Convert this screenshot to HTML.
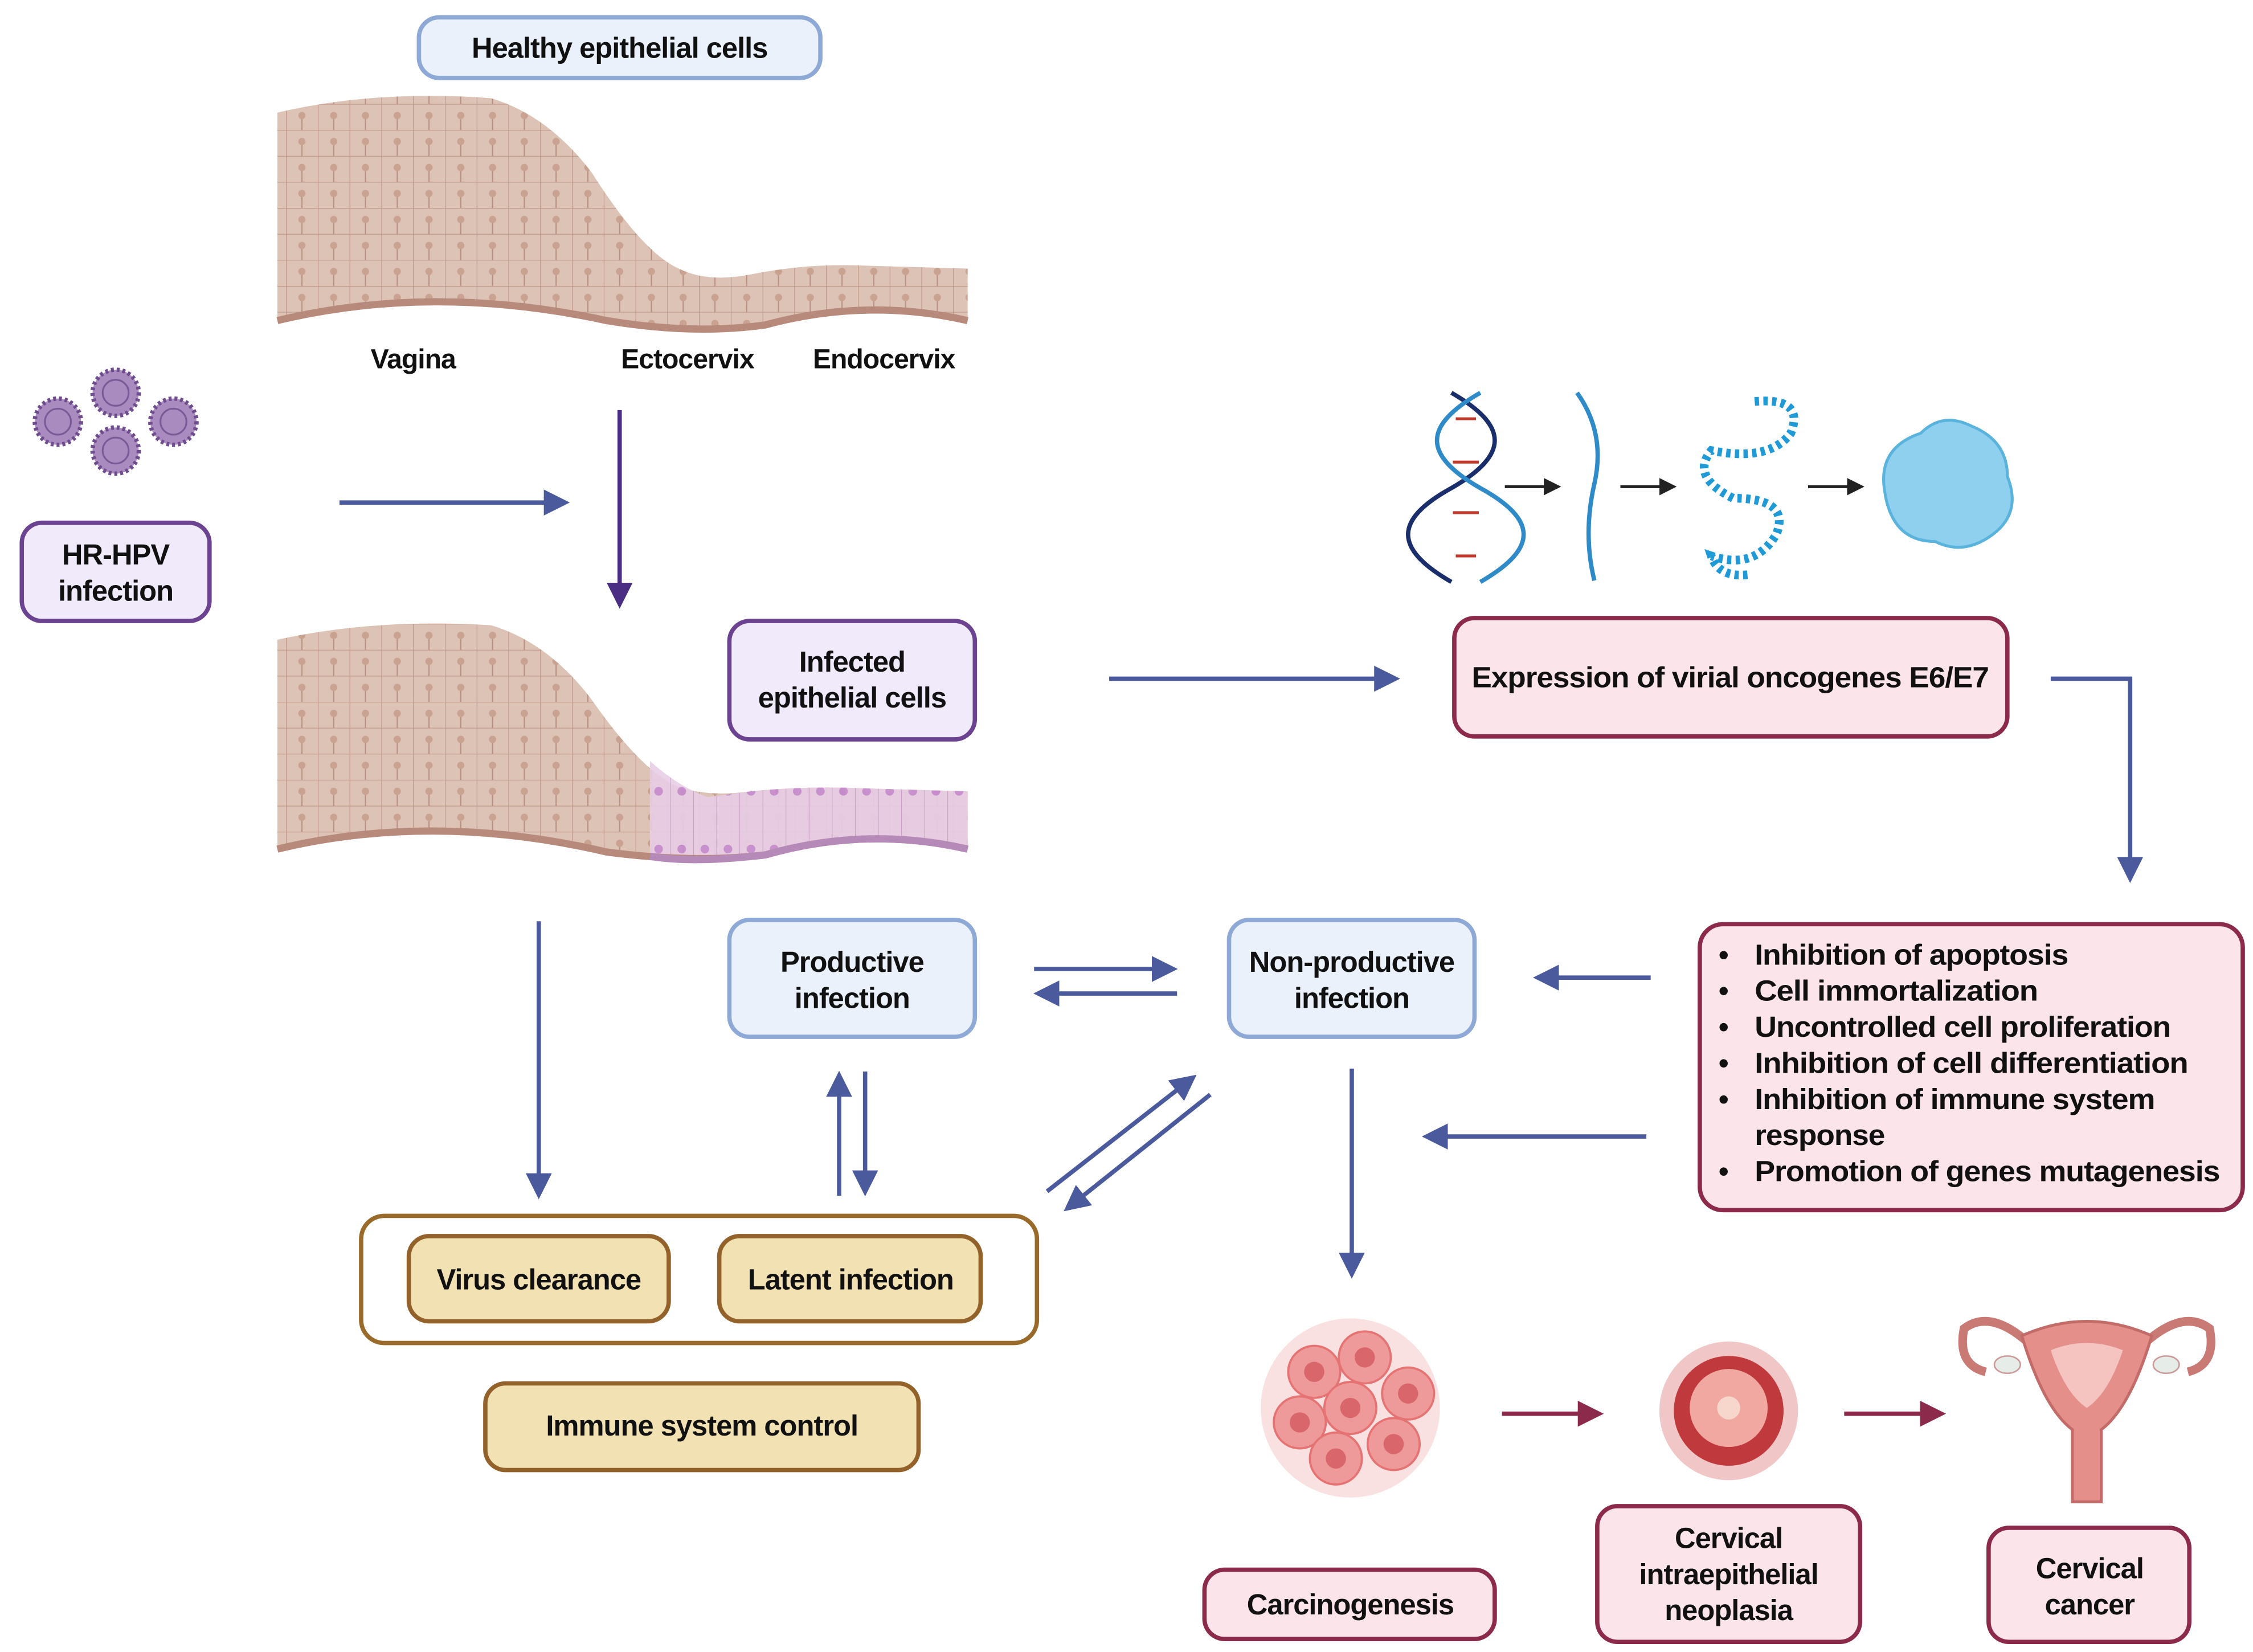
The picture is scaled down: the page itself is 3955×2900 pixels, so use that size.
<!DOCTYPE html>
<html><head><meta charset="utf-8"><style>
html,body{margin:0;padding:0;background:#fff;}
svg{display:block;}
text{font-family:"Liberation Sans Narrow","Liberation Sans",sans-serif;font-weight:bold;fill:#111;letter-spacing:-0.4px;}
</style></head><body>
<svg width="3955" height="2900" viewBox="0 0 1560 1144" xmlns="http://www.w3.org/2000/svg">
<defs>
<marker id="ab" markerWidth="6" markerHeight="6" refX="4.5" refY="3" orient="auto" markerUnits="strokeWidth"><path d="M0,0 L6,3 L0,6 z" fill="#4a5a9c"/></marker>
<marker id="ap" markerWidth="6" markerHeight="6" refX="4.5" refY="3" orient="auto" markerUnits="strokeWidth"><path d="M0,0 L6,3 L0,6 z" fill="#4b2e83"/></marker>
<marker id="ar" markerWidth="6" markerHeight="6" refX="4.5" refY="3" orient="auto" markerUnits="strokeWidth"><path d="M0,0 L6,3 L0,6 z" fill="#8b2a4a"/></marker>
<marker id="ak" markerWidth="6" markerHeight="6" refX="4.5" refY="3" orient="auto" markerUnits="strokeWidth"><path d="M0,0 L6,3 L0,6 z" fill="#222"/></marker>
<pattern id="cells" width="22" height="18" patternUnits="userSpaceOnUse">
<rect width="22" height="18" fill="#dcc3b6"/><path d="M0,0 L22,0 M0,0 L0,18 M11,9 L11,18" stroke="#b98f80" stroke-width="0.8"/><circle cx="11" cy="8" r="2.5" fill="#c9a292"/></pattern>
<pattern id="pcells" width="16" height="40" patternUnits="userSpaceOnUse">
<rect width="16" height="40" fill="#e8cde6"/><path d="M0,0 L0,40" stroke="#c59ac8" stroke-width="0.8"/><circle cx="8" cy="28" r="3" fill="#c68ad0"/></pattern>
</defs>

<rect x="290" y="12" width="278" height="42" rx="14" fill="#eaf1fb" stroke="#8fa9d6" stroke-width="3"/>
<text x="429" y="40" font-size="20" text-anchor="middle">Healthy epithelial cells</text>

<path d="M192,78 Q260,62 340,68 Q380,80 410,120 Q445,175 470,186 Q490,196 520,190 Q560,182 600,184 L670,186 L670,222 Q600,206 530,225 Q480,232 420,222 Q300,196 192,222 Z" fill="url(#cells)"/>
<path d="M192,222 Q300,196 420,222 Q480,232 530,225 Q600,206 670,222" fill="none" stroke="#b88a7c" stroke-width="5"/>
<text x="286" y="255" font-size="19" text-anchor="middle">Vagina</text>
<text x="476" y="255" font-size="19" text-anchor="middle">Ectocervix</text>
<text x="612" y="255" font-size="19" text-anchor="middle">Endocervix</text>

<g fill="#a98bc0" stroke="#6e4c8e" stroke-width="3" stroke-dasharray="2 2">
<circle cx="40" cy="292" r="16"/><circle cx="80" cy="272" r="16"/><circle cx="120" cy="292" r="16"/><circle cx="80" cy="312" r="16"/></g>
<g fill="none" stroke="#7a5a96" stroke-width="1.2">
<circle cx="40" cy="292" r="9"/><circle cx="80" cy="272" r="9"/><circle cx="120" cy="292" r="9"/><circle cx="80" cy="312" r="9"/></g>

<rect x="15" y="362" width="130" height="68" rx="14" fill="#f1eafb" stroke="#6b4391" stroke-width="3"/>
<text x="80" y="391" font-size="20" text-anchor="middle">HR-HPV</text>
<text x="80" y="416" font-size="20" text-anchor="middle">infection</text>

<line x1="235" y1="348" x2="390" y2="348" stroke="#4a5a9c" stroke-width="3" marker-end="url(#ab)"/>
<line x1="429" y1="284" x2="429" y2="417" stroke="#4b2e83" stroke-width="3" marker-end="url(#ap)"/>

<path d="M192,443 Q260,428 340,433 Q380,445 410,485 Q445,535 470,545 Q490,552 520,548 Q560,544 600,546 L670,548 L670,588 Q600,572 530,592 Q480,598 420,590 Q300,562 192,588 Z" fill="url(#cells)"/>
<path d="M450,527 Q470,545 490,552 L520,548 Q560,544 600,546 L670,548 L670,588 Q600,572 530,592 Q480,598 450,594 Z" fill="url(#pcells)" opacity="0.9"/>
<path d="M192,588 Q300,562 420,590 Q480,598 530,592 Q600,572 670,588" fill="none" stroke="#b88a7c" stroke-width="5"/>
<path d="M450,593 Q480,598 530,592 Q600,572 670,588" fill="none" stroke="#b58ab8" stroke-width="5"/>

<rect x="505" y="430" width="170" height="82" rx="14" fill="#f1eafb" stroke="#6b4391" stroke-width="3"/>
<text x="590" y="465" font-size="20" text-anchor="middle">Infected</text>
<text x="590" y="490" font-size="20" text-anchor="middle">epithelial cells</text>

<line x1="768" y1="470" x2="965" y2="470" stroke="#4a5a9c" stroke-width="3" marker-end="url(#ab)"/>

<g fill="none" stroke-width="3">
<path d="M1005,272 C1045,295 1045,315 1005,338 C965,360 965,380 1005,403" stroke="#1a2e6b"/>
<path d="M1025,272 C985,295 985,315 1025,338 C1065,360 1065,380 1025,403" stroke="#2f8bc8"/>
</g>
<g stroke="#c0392b" stroke-width="2"><line x1="1008" y1="290" x2="1022" y2="290"/><line x1="1006" y1="320" x2="1024" y2="320"/><line x1="1006" y1="355" x2="1024" y2="355"/><line x1="1008" y1="385" x2="1022" y2="385"/></g>
<line x1="1042" y1="337" x2="1078" y2="337" stroke="#222" stroke-width="2" marker-end="url(#ak)"/>
<path d="M1092,272 Q1112,300 1104,335 Q1096,370 1104,402" fill="none" stroke="#2f8bc8" stroke-width="3"/>
<line x1="1122" y1="337" x2="1158" y2="337" stroke="#222" stroke-width="2" marker-end="url(#ak)"/>
<path d="M1215,278 Q1250,275 1240,300 Q1225,320 1185,312 Q1170,330 1200,345 Q1240,345 1230,370 Q1215,395 1185,385 Q1190,400 1210,398" fill="none" stroke="#1f9ad6" stroke-width="6" stroke-dasharray="3 3"/>
<line x1="1252" y1="337" x2="1288" y2="337" stroke="#222" stroke-width="2" marker-end="url(#ak)"/>
<path d="M1305,340 Q1300,310 1330,300 Q1345,285 1365,295 Q1390,305 1390,330 Q1400,355 1380,370 Q1360,385 1340,375 Q1310,375 1305,340 Z" fill="#8fd0ef" stroke="#5ab3dc" stroke-width="2"/>

<rect x="1007" y="428" width="383" height="82" rx="14" fill="#fbe4ea" stroke="#8b2a4a" stroke-width="3"/>
<text x="1198" y="476" font-size="20" text-anchor="middle" textLength="358" lengthAdjust="spacingAndGlyphs">Expression of virial oncogenes E6/E7</text>

<polyline points="1420,470 1475,470 1475,607" fill="none" stroke="#4a5a9c" stroke-width="3" marker-end="url(#ab)"/>

<rect x="1177" y="640" width="376" height="198" rx="16" fill="#fbe4ea" stroke="#8b2a4a" stroke-width="3"/>
<g font-size="20">
<text x="1190" y="668">•</text><text x="1215" y="668" textLength="217" lengthAdjust="spacingAndGlyphs">Inhibition of apoptosis</text>
<text x="1190" y="693">•</text><text x="1215" y="693" textLength="196" lengthAdjust="spacingAndGlyphs">Cell immortalization</text>
<text x="1190" y="718">•</text><text x="1215" y="718" textLength="288" lengthAdjust="spacingAndGlyphs">Uncontrolled cell proliferation</text>
<text x="1190" y="743">•</text><text x="1215" y="743" textLength="300" lengthAdjust="spacingAndGlyphs">Inhibition of cell differentiation</text>
<text x="1190" y="768">•</text><text x="1215" y="768" textLength="277" lengthAdjust="spacingAndGlyphs">Inhibition of immune system</text>
<text x="1215" y="793" textLength="90" lengthAdjust="spacingAndGlyphs">response</text>
<text x="1190" y="818">•</text><text x="1215" y="818" textLength="322" lengthAdjust="spacingAndGlyphs">Promotion of genes mutagenesis</text>
</g>

<line x1="1143" y1="677" x2="1066" y2="677" stroke="#4a5a9c" stroke-width="3" marker-end="url(#ab)"/>
<line x1="1140" y1="787" x2="989" y2="787" stroke="#4a5a9c" stroke-width="3" marker-end="url(#ab)"/>

<rect x="851" y="637" width="170" height="81" rx="14" fill="#eaf1fb" stroke="#8fa9d6" stroke-width="3"/>
<text x="936" y="673" font-size="20" text-anchor="middle">Non-productive</text>
<text x="936" y="698" font-size="20" text-anchor="middle">infection</text>

<rect x="505" y="637" width="170" height="81" rx="14" fill="#eaf1fb" stroke="#8fa9d6" stroke-width="3"/>
<text x="590" y="673" font-size="20" text-anchor="middle">Productive</text>
<text x="590" y="698" font-size="20" text-anchor="middle">infection</text>

<line x1="716" y1="671" x2="811" y2="671" stroke="#4a5a9c" stroke-width="3" marker-end="url(#ab)"/>
<line x1="815" y1="688" x2="720" y2="688" stroke="#4a5a9c" stroke-width="3" marker-end="url(#ab)"/>
<line x1="581" y1="828" x2="581" y2="746" stroke="#4a5a9c" stroke-width="3" marker-end="url(#ab)"/>
<line x1="599" y1="742" x2="599" y2="824" stroke="#4a5a9c" stroke-width="3" marker-end="url(#ab)"/>
<line x1="725" y1="825" x2="825" y2="747" stroke="#4a5a9c" stroke-width="3" marker-end="url(#ab)"/>
<line x1="838" y1="758" x2="740" y2="836" stroke="#4a5a9c" stroke-width="3" marker-end="url(#ab)"/>
<line x1="373" y1="638" x2="373" y2="826" stroke="#4a5a9c" stroke-width="3" marker-end="url(#ab)"/>
<line x1="936" y1="740" x2="936" y2="881" stroke="#4a5a9c" stroke-width="3" marker-end="url(#ab)"/>

<rect x="250" y="842" width="468" height="88" rx="16" fill="#fff" stroke="#9a6a2a" stroke-width="3"/>
<rect x="283" y="856" width="180" height="59" rx="14" fill="#f2e1b3" stroke="#93622a" stroke-width="3"/>
<text x="373" y="893" font-size="20" text-anchor="middle">Virus clearance</text>
<rect x="498" y="856" width="181" height="59" rx="14" fill="#f2e1b3" stroke="#93622a" stroke-width="3"/>
<text x="589" y="893" font-size="20" text-anchor="middle">Latent infection</text>
<rect x="336" y="958" width="300" height="60" rx="14" fill="#f2e1b3" stroke="#93622a" stroke-width="3"/>
<text x="486" y="994" font-size="20" text-anchor="middle">Immune system control</text>

<g>
<circle cx="935" cy="975" r="62" fill="#f8d4d4" opacity="0.7"/>
<g fill="#ef9a9a" stroke="#e57373" stroke-width="1.5">
<circle cx="910" cy="950" r="18"/><circle cx="945" cy="940" r="18"/><circle cx="975" cy="965" r="18"/><circle cx="900" cy="985" r="18"/><circle cx="935" cy="975" r="18"/><circle cx="965" cy="1000" r="18"/><circle cx="925" cy="1010" r="18"/></g>
<g fill="#d9666a"><circle cx="910" cy="950" r="7"/><circle cx="945" cy="940" r="7"/><circle cx="975" cy="965" r="7"/><circle cx="900" cy="985" r="7"/><circle cx="935" cy="975" r="7"/><circle cx="965" cy="1000" r="7"/><circle cx="925" cy="1010" r="7"/></g>
</g>
<rect x="834" y="1087" width="201" height="48" rx="14" fill="#fbe4ea" stroke="#8b2a4a" stroke-width="3"/>
<text x="935" y="1118" font-size="20" text-anchor="middle">Carcinogenesis</text>

<line x1="1040" y1="979" x2="1106" y2="979" stroke="#8b2a4a" stroke-width="3" marker-end="url(#ar)"/>
<line x1="1277" y1="979" x2="1343" y2="979" stroke="#8b2a4a" stroke-width="3" marker-end="url(#ar)"/>

<circle cx="1197" cy="977" r="48" fill="#e7a0a0" opacity="0.6"/>
<circle cx="1197" cy="977" r="38" fill="#c0393c"/>
<circle cx="1197" cy="975" r="27" fill="#f0a8a0"/>
<circle cx="1197" cy="975" r="8" fill="#f7d6cc"/>
<rect x="1106" y="1043" width="182" height="94" rx="14" fill="#fbe4ea" stroke="#8b2a4a" stroke-width="3"/>
<text x="1197" y="1072" font-size="20" text-anchor="middle">Cervical</text>
<text x="1197" y="1097" font-size="20" text-anchor="middle">intraepithelial</text>
<text x="1197" y="1122" font-size="20" text-anchor="middle">neoplasia</text>

<g fill="none" stroke="#c97a74" stroke-width="6">
<path d="M1410,935 Q1380,905 1360,920 Q1355,945 1375,950"/><path d="M1480,935 Q1510,905 1530,920 Q1535,945 1515,950"/></g>
<path d="M1400,925 Q1445,905 1490,925 Q1475,975 1455,990 L1455,1040 L1435,1040 L1435,990 Q1415,975 1400,925 Z" fill="#e48f8a" stroke="#c36b68" stroke-width="2"/>
<path d="M1420,935 Q1445,925 1470,935 Q1460,965 1445,975 Q1430,965 1420,935 Z" fill="#f5c4c0"/>
<ellipse cx="1390" cy="945" rx="9" ry="6" fill="#e6ece8" stroke="#c99"/>
<ellipse cx="1500" cy="945" rx="9" ry="6" fill="#e6ece8" stroke="#c99"/>
<rect x="1377" y="1058" width="139" height="79" rx="14" fill="#fbe4ea" stroke="#8b2a4a" stroke-width="3"/>
<text x="1447" y="1093" font-size="20" text-anchor="middle">Cervical</text>
<text x="1447" y="1118" font-size="20" text-anchor="middle">cancer</text>
</svg>
</body></html>
